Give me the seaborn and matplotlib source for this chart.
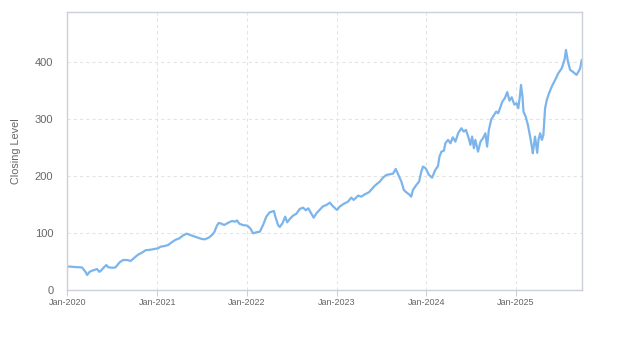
import matplotlib
matplotlib.use("Agg")
import matplotlib.pyplot as plt
import matplotlib.dates as mdates
import numpy as np
import pandas as pd
import seaborn as sns

# Closing level series, sampled roughly every one to two weeks
dates_2020 = ["2020-01-02", "2020-01-15", "2020-02-01", "2020-02-15", "2020-03-01",
              "2020-03-15", "2020-03-22", "2020-04-01", "2020-04-15", "2020-05-01",
              "2020-05-10", "2020-05-15", "2020-06-01", "2020-06-08", "2020-06-15",
              "2020-07-01", "2020-07-15", "2020-08-01", "2020-08-15", "2020-09-01",
              "2020-09-15", "2020-10-01", "2020-10-15", "2020-11-01", "2020-11-15",
              "2020-12-01", "2020-12-15"]
close_2020 = [41.0, 41.0, 40.3, 40.0, 39.6, 32.0, 26.3, 32.0, 34.5, 36.8,
              32.0, 33.0, 41.0, 43.8, 40.0, 39.0, 39.6, 48.5, 52.6, 52.6,
              51.0, 57.0, 62.0, 65.7, 69.8, 70.4, 71.5]

dates_2021 = ["2021-01-04", "2021-01-15", "2021-02-01", "2021-02-15", "2021-03-01",
              "2021-03-15", "2021-04-01", "2021-04-15", "2021-05-01", "2021-05-15",
              "2021-06-01", "2021-06-15", "2021-07-01", "2021-07-15", "2021-08-01",
              "2021-08-15", "2021-08-22", "2021-09-01", "2021-09-08", "2021-09-15",
              "2021-10-01", "2021-10-15", "2021-11-01", "2021-11-15", "2021-11-22",
              "2021-12-01", "2021-12-15"]
close_2021 = [73.1, 76.0, 77.2, 79.0, 83.6, 87.7, 90.6, 95.3, 98.8, 96.5,
              94.0, 91.8, 89.5, 88.9, 92.4, 97.7, 102.0, 112.8, 117.5, 117.0,
              114.0, 117.5, 121.0, 119.9, 122.0, 116.4, 114.0]

dates_2022 = ["2022-01-03", "2022-01-15", "2022-01-26", "2022-02-09", "2022-02-23",
              "2022-03-08", "2022-03-21", "2022-04-04", "2022-04-21", "2022-04-27",
              "2022-05-08", "2022-05-15", "2022-05-26", "2022-06-06", "2022-06-14",
              "2022-06-25", "2022-07-08", "2022-07-22", "2022-08-04", "2022-08-18",
              "2022-08-29", "2022-09-08", "2022-09-22", "2022-09-30", "2022-10-11",
              "2022-10-25", "2022-11-07", "2022-11-21", "2022-12-05", "2022-12-15",
              "2022-12-29"]
close_2022 = [112.8, 108.0, 99.4, 101.2, 102.3, 114.0, 128.6, 136.3, 138.6, 128.6,
              114.0, 110.5, 117.0, 128.6, 118.7, 124.6, 130.4, 133.9, 142.1, 144.4,
              139.8, 143.3, 132.8, 126.8, 134.5, 140.9, 146.8, 149.1, 153.2, 147.9,
              142.1]

dates_2023 = ["2023-01-03", "2023-01-14", "2023-01-27", "2023-02-17", "2023-03-02",
              "2023-03-12", "2023-03-30", "2023-04-12", "2023-04-26", "2023-05-13",
              "2023-06-06", "2023-06-26", "2023-07-09", "2023-07-23", "2023-08-08",
              "2023-08-19", "2023-08-30", "2023-09-10", "2023-09-22", "2023-10-02",
              "2023-10-12", "2023-10-23", "2023-11-01", "2023-11-08", "2023-11-22",
              "2023-12-03", "2023-12-12", "2023-12-19", "2023-12-30"]
close_2023 = [140.4, 146.2, 150.3, 155.0, 162.0, 158.0, 165.5, 163.7, 167.8, 171.4,
              183.0, 190.0, 197.0, 201.8, 203.0, 204.0, 212.3, 201.8, 190.0, 175.4,
              171.4, 167.8, 163.7, 175.4, 184.2, 190.0, 207.5, 216.4, 213.4]

dates_2024 = ["2024-01-12", "2024-01-25", "2024-02-07", "2024-02-18", "2024-02-24",
              "2024-03-03", "2024-03-13", "2024-03-19", "2024-03-30", "2024-04-09",
              "2024-04-18", "2024-04-29", "2024-05-10", "2024-05-23", "2024-06-02",
              "2024-06-11", "2024-06-22", "2024-06-29", "2024-07-06", "2024-07-13",
              "2024-07-19", "2024-07-30", "2024-08-09", "2024-08-19", "2024-08-29",
              "2024-09-05", "2024-09-12", "2024-09-22", "2024-10-03", "2024-10-12",
              "2024-10-20", "2024-10-30", "2024-11-06", "2024-11-16", "2024-11-26",
              "2024-12-05", "2024-12-14", "2024-12-25"]
close_2024 = [201.8, 197.0, 210.5, 217.5, 233.9, 242.6, 244.4, 257.3, 263.2, 257.3,
              267.8, 260.2, 274.9, 283.6, 277.8, 280.7, 266.1, 254.4, 269.0, 248.6,
              263.2, 242.6, 260.2, 266.0, 274.9, 251.5, 280.7, 299.4, 307.0, 312.9,
              310.0, 321.6, 330.4, 336.3, 347.0, 332.0, 338.0, 325.0]

dates_2025 = ["2025-01-03", "2025-01-10", "2025-01-17", "2025-01-21", "2025-01-27",
              "2025-01-31", "2025-02-09", "2025-02-18", "2025-02-27", "2025-03-06",
              "2025-03-10", "2025-03-19", "2025-03-28", "2025-04-02", "2025-04-09",
              "2025-04-16", "2025-04-22", "2025-04-29", "2025-05-06", "2025-05-15",
              "2025-05-26", "2025-06-09", "2025-06-22", "2025-07-06", "2025-07-17",
              "2025-07-23", "2025-07-31", "2025-08-09", "2025-08-19", "2025-08-27",
              "2025-09-04", "2025-09-12", "2025-09-19", "2025-09-25"]
close_2025 = [327.5, 318.8, 342.1, 359.6, 339.1, 312.9, 304.0, 289.5, 269.0, 251.5,
              239.8, 269.0, 240.5, 263.2, 274.9, 263.2, 271.9, 318.8, 333.3, 345.0,
              356.7, 368.4, 380.1, 388.9, 403.5, 421.0, 400.5, 386.0, 383.0, 380.1,
              377.2, 383.0, 388.9, 403.5]

year_ticks = ["2020-01-01", "2021-01-01", "2022-01-01", "2023-01-01",
              "2024-01-01", "2025-01-01"]
y_ticks = [0, 100, 200, 300, 400]

dates = dates_2020 + dates_2021 + dates_2022 + dates_2023 + dates_2024 + dates_2025
closes = close_2020 + close_2021 + close_2022 + close_2023 + close_2024 + close_2025
df = pd.DataFrame({"date": pd.to_datetime(dates), "close": closes})

sns.set_theme(style="white")
plt.rcParams["font.family"] = ["Liberation Sans", "DejaVu Sans"]

fig = plt.figure(figsize=(6.23, 3.5), dpi=100)
ax = fig.add_axes([0.108, 0.1714, 0.8257, 0.7935])

sns.lineplot(data=df, x="date", y="close", ax=ax, color="#7cb5ec",
             linewidth=1.6, estimator=None)

ax.set_xlim(df["date"].iloc[0] - pd.Timedelta(days=1), df["date"].iloc[-1])
ax.set_ylim(0, 487)
ax.set_yticks(y_ticks)
ax.set_xticks(pd.to_datetime(year_ticks))
ax.xaxis.set_major_formatter(mdates.DateFormatter("%b-%Y"))

ax.grid(True, color="#e3e3e3", linestyle=(0, (3, 3)), linewidth=0.75)
ax.set_axisbelow(True)
for side in ["left", "right", "top", "bottom"]:
    ax.spines[side].set_visible(True)
    ax.spines[side].set_color("#ccd0d8")
    ax.spines[side].set_linewidth(1.0)

ax.tick_params(axis="x", colors="#ccd0d8", labelcolor="#666666", labelsize=6.5,
               length=4, width=0.8, pad=2, bottom=True)
ax.tick_params(axis="y", labelcolor="#666666", labelsize=8, length=0, pad=10)

ax.set_xlabel("")
ax.set_ylabel("Closing Level", color="#666666", fontsize=7.8, labelpad=10)

fig.savefig("out.png", dpi=100)
